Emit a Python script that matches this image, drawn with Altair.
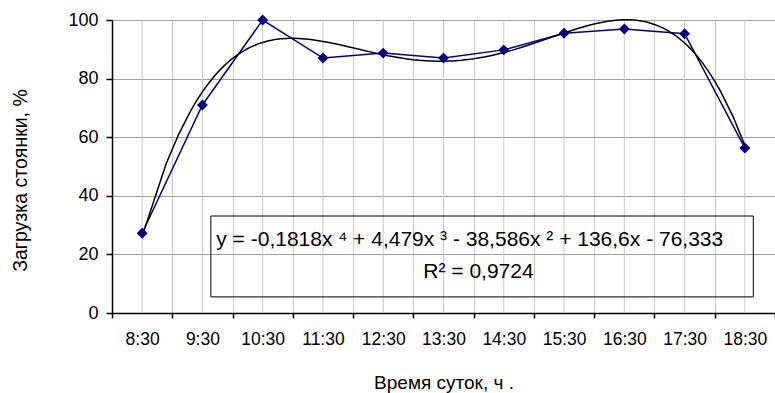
import altair as alt
import pandas as pd

times = ["8:30", "9:30", "10:30", "11:30", "12:30", "13:30", "14:30",
         "15:30", "16:30", "17:30", "18:30"]
load_pct = [27.2, 71.0, 100.0, 87.0, 88.7, 87.0, 89.8, 95.5, 96.9, 95.3, 56.3]
idx = list(range(1, len(times) + 1))

eq_line1 = "y = -0,1818x \u2074 + 4,479x \u00b3 - 38,586x \u00b2 + 136,6x - 76,333"
eq_line2 = "R\u00b2 = 0,9724"

df = pd.DataFrame({"idx": idx, "time": times, "value": load_pct})

FONT = "Liberation Sans"
NAVY = "#000080"
GRID_V = "#c8c8c8"

x_axis = alt.Axis(
    tickBand="extent",
    grid=True,
    gridColor=GRID_V,
    gridWidth=1,
    ticks=True,
    tickSize=5,
    tickColor="#000000",
    tickWidth=1.5,
    domainColor="#000000",
    domainWidth=1.5,
    labelFont=FONT,
    labelFontSize=17.5,
    labelColor="#000000",
    labelPadding=12,
    labelAngle=0,
    labelFlush=False,
    labelOverlap=False,
    title="Время суток, ч  .",
    titleFont=FONT,
    titleFontSize=19,
    titleFontWeight="normal",
    titleColor="#000000",
    titleY=69,
    titleBaseline="middle",
)

y_axis = alt.Axis(
    values=[0, 20, 40, 60, 80, 100],
    grid=True,
    gridColor="#a0a0a0",
    gridWidth=1,
    tickSize=6,
    tickColor="#000000",
    tickWidth=1.5,
    domainColor="#000000",
    domainWidth=1.5,
    labelFont=FONT,
    labelFontSize=18,
    labelColor="#000000",
    labelPadding=8,
    title="Загрузка стоянки, %",
    titleFont=FONT,
    titleFontSize=19.5,
    titleFontWeight="normal",
    titleColor="#000000",
    titleX=-92,
    titleY=160,
    titleBaseline="middle",
)

band = alt.Scale(type="band", paddingInner=0, paddingOuter=0, domain=times)
xq_scale = alt.Scale(domain=[0.5, 11.5], nice=False, zero=False)
y_enc = alt.Y("value:Q", scale=alt.Scale(domain=[0, 100], nice=False), axis=y_axis)

base = alt.Chart(df)

center_grid = base.mark_rule(color=GRID_V, strokeWidth=1).encode(
    x=alt.X("time:O", scale=band, sort=times, axis=x_axis)
)
line = base.mark_line(color=NAVY, strokeWidth=1.5).encode(
    x=alt.X("time:O", scale=band, sort=times, axis=None), y=y_enc
)
points = base.mark_point(shape="diamond", filled=True, color=NAVY, size=120, opacity=1).encode(
    x=alt.X("time:O", scale=band, sort=times, axis=None), y="value:Q"
)
trend = base.transform_regression(
    "idx", "value", method="poly", order=4, extent=[1, 11]
).mark_line(color="#000000", strokeWidth=1.5).encode(
    x=alt.X("idx:Q", scale=xq_scale, axis=None), y="value:Q"
)

box_df = pd.DataFrame({"x1": [2.14], "x2": [11.14], "y1": [5.5], "y2": [33.1]})
box = alt.Chart(box_df).mark_rect(fillOpacity=0, stroke="#000000", strokeWidth=1).encode(
    x=alt.X("x1:Q", scale=xq_scale, axis=None), x2="x2:Q", y="y1:Q", y2="y2:Q"
)

txt_df = pd.DataFrame({
    "x": [2.23, 6.58],
    "y": [24.9, 14.0],
    "label": [eq_line1, eq_line2],
})
txt1 = alt.Chart(txt_df.iloc[[0]]).mark_text(
    align="left", baseline="middle", font=FONT, fontSize=21, color="#000000"
).encode(x=alt.X("x:Q", scale=xq_scale, axis=None), y="y:Q", text="label:N")
txt2 = alt.Chart(txt_df.iloc[[1]]).mark_text(
    align="center", baseline="middle", font=FONT, fontSize=21, color="#000000"
).encode(x=alt.X("x:Q", scale=xq_scale, axis=None), y="y:Q", text="label:N")

chart = alt.layer(center_grid, line, trend, points, box, txt1, txt2).resolve_scale(
    x="independent"
).properties(
    width=663,
    height=293,
    autosize=alt.AutoSizeParams(type="none"),
    padding={"left": 112, "top": 20, "right": 0, "bottom": 80},
    background="#ffffff",
).configure_view(stroke=None)

chart.save("out.html", embed_options={"renderer": "svg", "actions": False})
